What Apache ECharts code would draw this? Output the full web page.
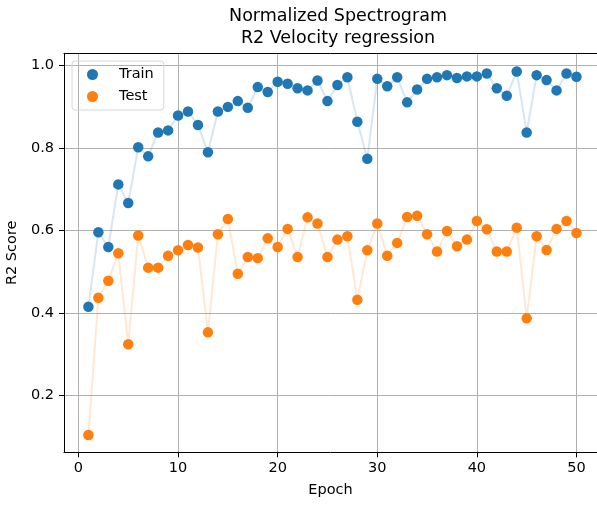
<!DOCTYPE html>
<html>
<head>
<meta charset="utf-8">
<script src="https://cdn.jsdelivr.net/npm/echarts@6/dist/echarts.min.js"></script>
<style>
html,body{margin:0;padding:0;background:#fff;}
#chart{width:597px;height:505px;}
</style>
</head>
<body>
<div id="chart"></div>
<script>
const epochs = [1,2,3,4,5,6,7,8,9,10,11,12,13,14,15,16,17,18,19,20,21,22,23,24,25,26,27,28,29,30,31,32,33,34,35,36,37,38,39,40,41,42,43,44,45,46,47,48,49,50];
const trainR2 = [0.415,0.596,0.560,0.712,0.667,0.802,0.780,0.838,0.843,0.879,0.889,0.856,0.790,0.889,0.900,0.914,0.898,0.948,0.936,0.961,0.956,0.945,0.940,0.964,0.914,0.953,0.972,0.864,0.774,0.968,0.950,0.972,0.911,0.942,0.968,0.972,0.977,0.970,0.974,0.974,0.981,0.945,0.927,0.986,0.838,0.977,0.965,0.940,0.981,0.973];
const testR2 = [0.104,0.437,0.478,0.545,0.324,0.588,0.510,0.510,0.539,0.552,0.565,0.559,0.353,0.591,0.628,0.495,0.536,0.533,0.581,0.560,0.604,0.536,0.632,0.617,0.536,0.578,0.586,0.432,0.552,0.617,0.539,0.570,0.633,0.636,0.591,0.549,0.599,0.562,0.578,0.623,0.603,0.549,0.549,0.607,0.387,0.586,0.553,0.604,0.623,0.594];
const xTicks = [0,10,20,30,40,50];
const yTicks = [0.2,0.4,0.6,0.8,1.0];
const seriesNames = ['Train','Test'];
const colors = ['#1f77b4','#ff7f0e'];

const font = 'DejaVu Sans';
const chart = echarts.init(document.getElementById('chart'), null, {renderer:'canvas'});
function pairs(ys){ return epochs.map((e,i)=>[e, ys[i]]); }
const allData = [trainR2, testR2];
const xMin = -1.45, xMax = 52.06;
chart.setOption({
  animation:false,
  backgroundColor:'#fff',
  title:{
    text:'Normalized Spectrogram\nR2 Velocity regression',
    left:333, top:0, textAlign:'center',
    textStyle:{fontFamily:font, fontSize:17.5, fontWeight:'normal', color:'#000', lineHeight:22}
  },
  legend:{
    left:72, top:61, orient:'vertical',
    data:seriesNames.map(n=>({name:n, icon:'circle'})),
    itemWidth:11, itemHeight:11, itemGap:7,
    padding:[6,10,6,15],
    borderColor:'#d6d6d6', borderWidth:1, borderRadius:3,
    textStyle:{fontFamily:font, fontSize:14.5, color:'#000', padding:[0,0,0,16]}
  },
  grid:{left:64, top:53.3, width:533, height:399, show:false, containLabel:false, outerBoundsMode:'none'},
  xAxis:[{
    type:'value', min:xMin, max:xMax,
    name:'Epoch', nameLocation:'middle', nameGap:30,
    nameTextStyle:{fontFamily:font, fontSize:14.5, color:'#000'},
    axisLine:{show:true, onZero:false, lineStyle:{color:'#000', width:1}},
    axisTick:{show:true, length:5, inside:false, customValues:xTicks, lineStyle:{color:'#000'}},
    axisLabel:{customValues:xTicks, fontFamily:font, fontSize:14.5, color:'#000', margin:8, formatter:v=>String(v)},
    splitLine:{show:true, lineStyle:{color:'#b0b0b0', width:1}}
  },{
    type:'value', min:xMin, max:xMax, position:'top',
    axisLine:{show:true, onZero:false, lineStyle:{color:'#000', width:1}},
    axisTick:{show:false}, axisLabel:{show:false}, splitLine:{show:false}
  }],
  yAxis:{
    type:'value', min:0.062, max:1.030, position:'left',
    name:'R2 Score', nameLocation:'middle', nameGap:35, nameRotate:90,
    nameTextStyle:{fontFamily:font, fontSize:14.5, color:'#000'},
    axisLine:{show:true, onZero:false, lineStyle:{color:'#000', width:1}},
    axisTick:{show:true, length:5, customValues:yTicks, lineStyle:{color:'#000'}},
    axisLabel:{customValues:yTicks, fontFamily:font, fontSize:14.5, color:'#000', margin:10, formatter:v=>v.toFixed(1)},
    splitLine:{show:true, lineStyle:{color:'#b0b0b0', width:1}}
  },
  series: seriesNames.map((n,k)=>({
    name:n, type:'line', data:pairs(allData[k]), xAxisIndex:0,
    symbol:'circle', symbolSize:10.5, showAllSymbol:true,
    itemStyle:{color:colors[k], opacity:1},
    lineStyle:{color:colors[k], width:2, opacity:0.18},
    emphasis:{disabled:true}, z:2+k
  }))
});
</script>
</body>
</html>
